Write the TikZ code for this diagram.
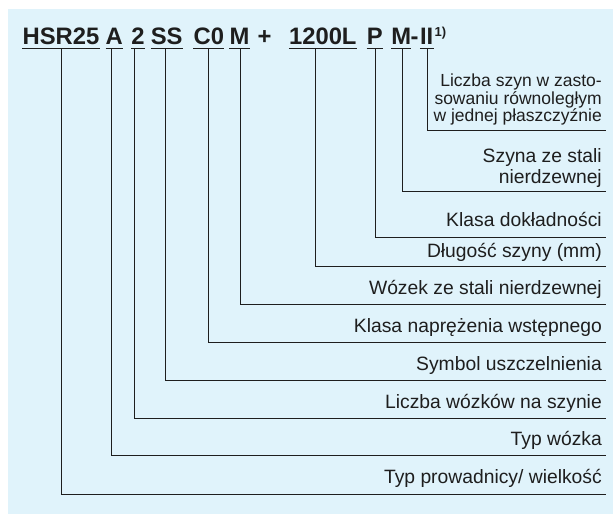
\documentclass[tikz,border=0pt]{standalone}
\usepackage{fontspec}
\setmainfont{Liberation Sans}
\definecolor{bgblue}{RGB}{224,243,251}
\definecolor{ink}{RGB}{30,30,30}
\begin{document}
\begin{tikzpicture}[x=1pt,y=-1pt,
  code/.style={inner sep=0pt, anchor=base, text=ink, font=\fontsize{23.8}{24}\selectfont\bfseries},
  supr/.style={inner sep=0pt, anchor=base west, text=ink, font=\fontsize{13}{13}\selectfont\bfseries},
  lab/.style={inner sep=0pt, anchor=base east, text=ink, align=right, font=\fontsize{19.3}{21}\selectfont},
  smalllab/.style={lab, font=\fontsize{17.5}{17.5}\selectfont},
  conn/.style={draw=ink, line width=0.9pt},
  uline/.style={draw=ink, line width=1.4pt}]
\useasboundingbox (0,0) rectangle (613,514);
\fill[bgblue] (8,9) rectangle (613,514);
% header
\node[code] (c1) at (61,44.3) {HSR25};
\node[code] (c2) at (114.3,44.3) {A};
\node[code] (c3) at (138,44.3) {2};
\node[code] (c4) at (166.7,44.3) {SS};
\node[code] (c5) at (208.8,44.3) {C0};
\node[code] (c6) at (239.5,44.3) {M};
\node[code] (plus) at (264.5,44.3) {+};
\node[code] (c7) at (322.8,44.3) {1200L};
\node[code] (c8) at (374.7,44.3) {P};
\node[code] (c9) at (401.3,44.3) {M};
\node[code] (dash) at (414.5,44.3) {-};
\node[code] (c10) at (426.7,44.3) {II};
\node[supr] (note) at (434.5,36.8) {1)};
% underlines
\foreach \n in {c1,c2,c3,c4,c5,c6,c7,c8,c9,c10}
  \draw[uline] ([yshift=-4pt]\n.base west) -- ([yshift=-4pt]\n.base east);
% line ends
\coordinate (e1) at (606,494);
\coordinate (e2) at (606,455.7);
\coordinate (e3) at (606,418);
\coordinate (e4) at (606,380);
\coordinate (e5) at (606,342.3);
\coordinate (e6) at (606,304);
\coordinate (e7) at (606,266.5);
\coordinate (e8) at (606,237);
\coordinate (e9) at (606,191);
\coordinate (e10) at (606,130);
% connectors
\draw[conn] ([yshift=-4pt]c1.base) |- (e1);
\draw[conn] ([xshift=-2.6pt,yshift=-4pt]c2.base) |- (e2);
\draw[conn] ([xshift=-4pt,yshift=-4pt]c3.base) |- (e3);
\draw[conn] ([xshift=-1pt,yshift=-4pt]c4.base) |- (e4);
\draw[conn] ([xshift=-0.8pt,yshift=-4pt]c5.base) |- (e5);
\draw[conn] ([xshift=0.5pt,yshift=-4pt]c6.base) |- (e6);
\draw[conn] ([xshift=-7.8pt,yshift=-4pt]c7.base) |- (e7);
\draw[conn] ([xshift=0.3pt,yshift=-4pt]c8.base) |- (e8);
\draw[conn] ([xshift=1.4pt,yshift=-4pt]c9.base) |- (e9);
\draw[conn] ([xshift=1pt,yshift=-4pt]c10.base) |- (e10);
% labels (base anchor of a multi-line node = last line)
\node[smalllab] (l10) at (602,121.7) {Liczba szyn w zasto-\\sowaniu równoległym\\w jednej płaszczyźnie};
\node[lab] (l9) at (602,183.5) {Szyna ze stali\\nierdzewnej};
\node[lab] (l8) at (602,226.5) {Klasa dokładności};
\node[lab] (l7) at (602,257.3) {Długość szyny (mm)};
\node[lab] (l6) at (602,294.5) {Wózek ze stali nierdzewnej};
\node[lab] (l5) at (602,332.3) {Klasa naprężenia wstępnego};
\node[lab] (l4) at (602,370) {Symbol uszczelnienia};
\node[lab] (l3) at (602,408) {Liczba wózków na szynie};
\node[lab] (l2) at (602,445) {Typ wózka};
\node[lab] (l1) at (602,483) {Typ prowadnicy/ wielkość};
\end{tikzpicture}
\end{document}
